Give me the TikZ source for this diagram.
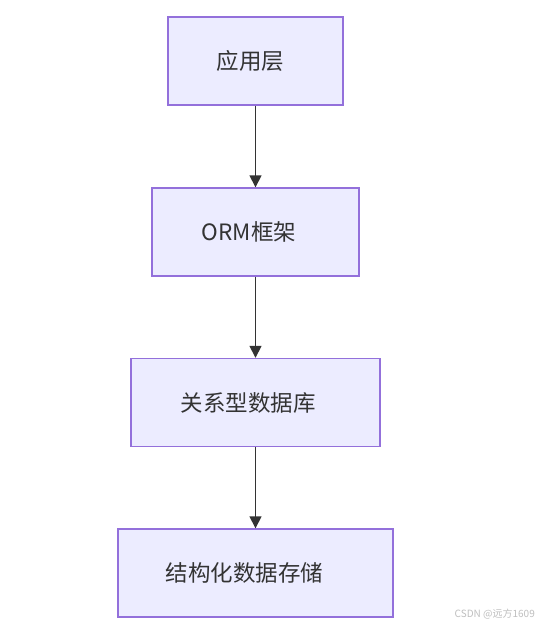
\documentclass[tikz,border=0pt]{standalone}
\usepackage{fontspec}
\setmainfont{Noto Sans CJK SC}
\usetikzlibrary{arrows.meta}
\definecolor{boxfill}{HTML}{ECECFF}
\definecolor{boxdraw}{HTML}{9370DB}
\definecolor{linec}{HTML}{333333}
\begin{document}
\begin{tikzpicture}[x=1pt,y=-1pt,
  box/.style={draw=boxdraw,fill=boxfill,line width=1.4pt,minimum height=88pt,inner sep=0pt},
  lbl/.style={text=linec,font=\fontsize{22.5}{26}\selectfont,inner sep=0pt},
  link/.style={draw=linec,line width=1.6pt,-{Triangle[length=12pt,width=12pt]}}]
\useasboundingbox[fill=white] (0,0) rectangle (538,626);
\node[box,minimum width=175pt] (a) at (255.5,61) {};
\node[box,minimum width=207pt] (b) at (255.5,232) {};
\node[box,minimum width=249pt] (c) at (255.5,402.5) {};
\node[box,minimum width=275pt] (d) at (255.5,573) {};
\node[lbl] (ta) at (250.5,61) {应用层};
\node[lbl] (tb) at (249,232) {ORM框架};
\node[lbl] (tc) at (248,402.5) {关系型数据库};
\node[lbl] (td) at (244.5,573) {结构化数据存储};
\draw[link] (a) -- (b);
\draw[link] (b) -- (c);
\draw[link] (c) -- (d);
\node[anchor=east,text=black!25,font=\fontsize{10}{11}\selectfont,inner sep=0pt] (w) at (535,614) {CSDN @远方1609};
\end{tikzpicture}
\end{document}
